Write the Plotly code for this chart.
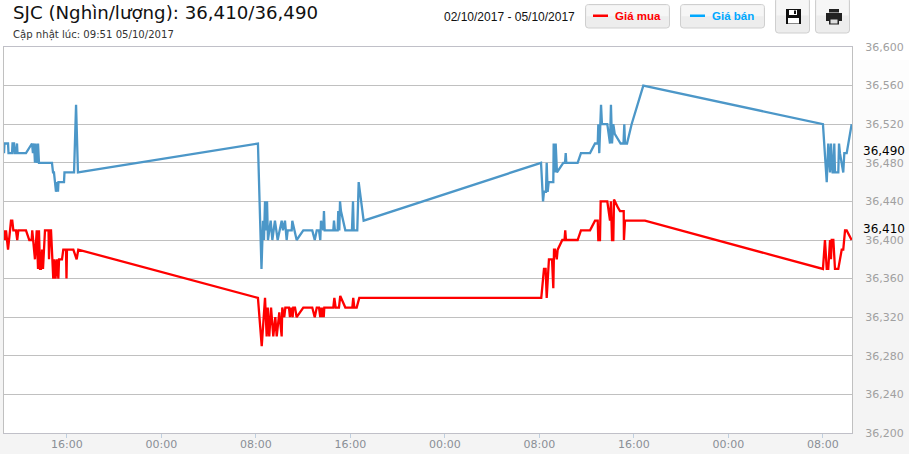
import pandas as pd
import plotly.graph_objects as go

W, H = 909, 454
L, R, T, B = 4, 852, 47, 433

title_text = "SJC (Nghìn/lượng): 36,410/36,490"
updated_text = "Cập nhật lúc: 09:51 05/10/2017"
date_range = "02/10/2017 - 05/10/2017"
start_time = pd.Timestamp("2017-10-02 00:18")
buy_last, sell_last = 36410, 36490
y_ticks = list(range(36200, 36601, 40))

# hours since 02/10/2017 00:18
sell_hours = [10.37,10.41,10.71,10.75,11.05,11.09,11.22,11.26,11.38,11.47,11.51,12.23,12.74,12.82,12.91,12.99,13.04,13.16,13.25,13.33,
 14.43,14.52,14.60,14.69,14.77,14.86,14.94,14.98,15.45,15.49,16.30,16.47,16.63,
 31.87,32.17,32.30,32.38,32.47,32.55,32.64,32.72,32.95,33.09,33.31,33.54,33.88,33.99,34.16,34.30,34.39,34.73,34.78,35.15,35.71,36.47,36.68,36.85,37.04,37.15,37.21,37.40,37.46,37.52,38.25,38.31,38.39,38.62,38.67,38.76,38.82,38.90,39.27,39.83,39.92,39.98,40.28,40.40,40.82,
 55.84,56.01,56.09,56.26,56.32,56.40,56.49,56.88,56.91,56.99,57.08,57.19,57.72,57.87,57.93,57.98,58.94,59.22,59.99,60.41,60.64,60.69,60.77,60.92,61.00,61.45,61.68,61.76,61.85,61.96,62.08,62.58,62.82,62.89,62.95,63.12,63.51,64.50,
 79.71,80.03,80.16,80.31,80.39,80.53,80.60,80.67,80.73,81.01,81.07,81.15,81.43,81.52,81.72,82.14]
sell_values = [36490,36500,36500,36490,36490,36500,36500,36490,36490,36500,36490,36490,36500,36490,36500,36480,36500,36480,36500,36480,
 36480,36470,36470,36460,36450,36460,36450,36460,36460,36470,36470,36540,36470,
 36500,36370,36420,36400,36440,36410,36440,36400,36420,36400,36420,36400,36420,36410,36420,36400,36410,36410,36420,36400,36410,36410,36400,36410,36410,36400,36420,36410,36430,36410,36410,36420,36410,36410,36430,36410,36440,36430,36410,36410,36440,36410,36410,36460,36420,
 36480,36440,36450,36450,36480,36450,36460,36460,36500,36470,36500,36470,36480,36480,36490,36480,36480,36490,36490,36500,36500,36520,36490,36540,36520,36520,36500,36540,36500,36520,36510,36500,36500,36520,36500,36500,36520,36560,
 36520,36460,36500,36470,36500,36470,36470,36500,36470,36470,36500,36490,36470,36490,36490,36520]

buy_hours = [10.37,10.45,10.54,10.71,10.88,10.96,11.07,11.16,11.38,11.49,11.58,12.23,12.51,12.71,12.76,12.85,12.99,13.14,13.25,13.33,13.42,13.50,13.59,13.67,13.76,13.84,14.01,14.14,14.18,14.26,14.35,14.43,14.54,14.64,14.73,14.86,14.97,15.03,15.28,15.39,15.62,15.66,15.70,16.24,16.52,16.66,
 31.87,32.19,32.32,32.47,32.61,32.70,32.83,32.98,33.17,33.34,33.46,33.68,33.88,33.93,34.10,34.19,34.50,34.58,34.67,34.81,34.86,35.01,35.15,35.71,36.47,36.68,36.85,37.04,37.15,37.21,37.29,37.38,37.44,37.49,38.25,38.34,38.45,38.73,38.84,39.27,39.86,39.94,40.03,40.23,40.45,
 55.86,56.09,56.23,56.32,56.51,56.77,56.88,56.94,57.02,57.17,57.25,57.64,57.83,57.89,57.95,58.94,59.22,59.99,60.41,60.64,60.69,60.83,60.89,61.45,61.68,61.76,61.85,61.96,62.02,62.38,62.53,62.84,62.86,62.95,64.64,
 79.71,79.88,80.03,80.16,80.31,80.39,80.45,80.59,80.73,81.01,81.30,81.43,81.58,81.72,82.14]
buy_values = [36410,36400,36410,36390,36410,36420,36420,36410,36410,36400,36410,36410,36400,36400,36410,36400,36380,36410,36370,36410,36370,36370,36390,36370,36400,36410,36410,36410,36380,36410,36410,36380,36360,36380,36360,36380,36360,36380,36380,36390,36390,36360,36390,36390,36380,36390,
 36340,36290,36320,36340,36300,36330,36300,36330,36300,36320,36300,36325,36300,36330,36320,36330,36330,36320,36330,36320,36330,36330,36320,36330,36330,36320,36330,36330,36320,36330,36320,36330,36320,36330,36330,36340,36330,36330,36342,36330,36330,36340,36330,36330,36340,
 36340,36370,36370,36340,36380,36380,36350,36390,36390,36380,36390,36400,36400,36410,36400,36400,36410,36410,36420,36420,36400,36400,36440,36440,36420,36440,36400,36400,36442,36433,36430,36430,36400,36420,36420,
 36370,36400,36370,36370,36400,36380,36400,36400,36370,36370,36390,36390,36410,36410,36400]


def times(hours):
    return start_time + pd.to_timedelta(hours, unit="h")


def px(x):
    return (x - L) / (R - L)


def py(y):
    return (B - y) / (B - T)


shapes, annotations = [], []


def rect(x0, y0, x1, y1, fill, line=None, layer="below"):
    shapes.append(dict(type="rect", xref="paper", yref="paper", x0=px(x0), x1=px(x1), y0=py(y0), y1=py(y1),
                       fillcolor=fill, line=dict(color=line or "rgba(0,0,0,0)", width=1 if line else 0), layer=layer))


def text(x, y, s, size, color, family, anchor="left", **kw):
    annotations.append(dict(xref="paper", yref="paper", x=px(x - 3), y=py(y), text=s, showarrow=False, xanchor=anchor,
                            yanchor="middle", font=dict(size=size, color=color, family=family), **kw))


bands = ["#ffffff", "#fdfdfd", "#fbfbfb", "#f9f9f9", "#f7f7f7", "#f6f6f6", "#f5f5f5", "#f4f4f4"]
for i, c in enumerate(bands):
    y0 = 20 + i * 40
    rect(0, y0, 3, H, c)
    rect(852, y0, W, H, c)
rect(0, 433, W, H, "#f4f4f4")


def button(x0, x1, y0, y1):
    shapes.append(dict(type="path", xref="paper", yref="paper",
                       path=f"M{px(x0+3)},{py(y0)} L{px(x1-3)},{py(y0)} Q{px(x1)},{py(y0)} {px(x1)},{py(y0+3)} "
                            f"L{px(x1)},{py(y1-3)} Q{px(x1)},{py(y1)} {px(x1-3)},{py(y1)} L{px(x0+3)},{py(y1)} "
                            f"Q{px(x0)},{py(y1)} {px(x0)},{py(y1-3)} L{px(x0)},{py(y0+3)} Q{px(x0)},{py(y0)} {px(x0+3)},{py(y0)} Z",
                       fillcolor="#ededed", line=dict(color="#cfcfcf", width=1), layer="above"))
    shapes.append(dict(type="rect", xref="paper", yref="paper", x0=px(x0 + 1), x1=px(x1 - 1), y0=py(y0 + 1),
                       y1=py((y0 + y1) / 2), fillcolor="#f6f6f6", line=dict(width=0), layer="above"))


button(585.5, 669.5, 4.5, 28)
button(680.5, 764.5, 4.5, 28)
button(775.5, 809.5, -2, 33)
button(815.5, 849.5, -2, 33)

rect(593, 14.5, 608, 17, "#ff0000", layer="above")
rect(690, 14.5, 705, 17, "#00a8ff", layer="above")

rect(786, 9, 801, 24, "#111111", layer="above")
rect(789, 10, 797, 15, "#ffffff", layer="above")
rect(794, 10.5, 796, 14, "#111111", layer="above")
rect(788, 18, 799, 23.5, "#ffffff", layer="above")
rect(826, 13, 842, 21, "#222222", layer="above")
rect(829, 9, 839, 12.5, "#222222", layer="above")
rect(829, 18, 839, 24.5, "#222222", layer="above")
rect(830.5, 19.5, 837.5, 23.5, "#dddddd", layer="above")

text(14, 12.5, title_text, 18.2, "#111111", "DejaVu Sans")
text(14, 35, updated_text, 10.1, "#333333", "DejaVu Sans")
text(444.5, 17.5, date_range, 12, "#111111", "Liberation Sans")
text(616, 16, "<b>Giá mua</b>", 11.5, "#ff0000", "Liberation Sans")
text(713, 16, "<b>Giá bán</b>", 11.5, "#00a8ff", "Liberation Sans")
text(864, 151, f"{sell_last:,}", 12, "#000000", "DejaVu Sans")
text(864, 229, f"{buy_last:,}", 12, "#000000", "DejaVu Sans")

fig = go.Figure()
fig.add_trace(go.Scatter(x=times(sell_hours), y=sell_values, mode="lines", name="Giá bán",
                         line=dict(color="#4c97c8", width=2.3)))
fig.add_trace(go.Scatter(x=times(buy_hours), y=buy_values, mode="lines", name="Giá mua",
                         line=dict(color="#ff0000", width=2.3)))

fig.update_layout(
    width=W, height=H, autosize=False, showlegend=False,
    margin=dict(l=L, r=W - R, t=T, b=H - B, pad=0, autoexpand=False),
    paper_bgcolor="#ffffff", plot_bgcolor="#ffffff",
    shapes=shapes, annotations=annotations,
    xaxis=dict(type="date", range=[times(10.369), times(82.17)], tickformat="%H:%M", dtick=8 * 3600000,
               tick0="2017-10-02 00:00", showgrid=False, ticks="outside", ticklen=4, tickcolor="#c0d0e0",
               ticklabelstandoff=-3,
               tickfont=dict(size=11, color="#8a8f96", family="DejaVu Sans"), showline=True, linecolor="#c0c0c8",
               linewidth=1, mirror=True, zeroline=False),
    yaxis=dict(side="right", range=[36200, 36600], tickvals=y_ticks, tickformat=",d", showgrid=True,
               gridcolor="#c0c0c0", gridwidth=1, ticks="", ticklabelstandoff=10,
               tickfont=dict(size=11, color="#a0a0a0", family="DejaVu Sans"), showline=True, linecolor="#c0c0c0",
               linewidth=1, mirror=True, zeroline=False),
)

fig.write_html("out.html", post_script="document.body.style.margin='0';document.body.style.overflow='hidden';",
               config=dict(displayModeBar=False))
